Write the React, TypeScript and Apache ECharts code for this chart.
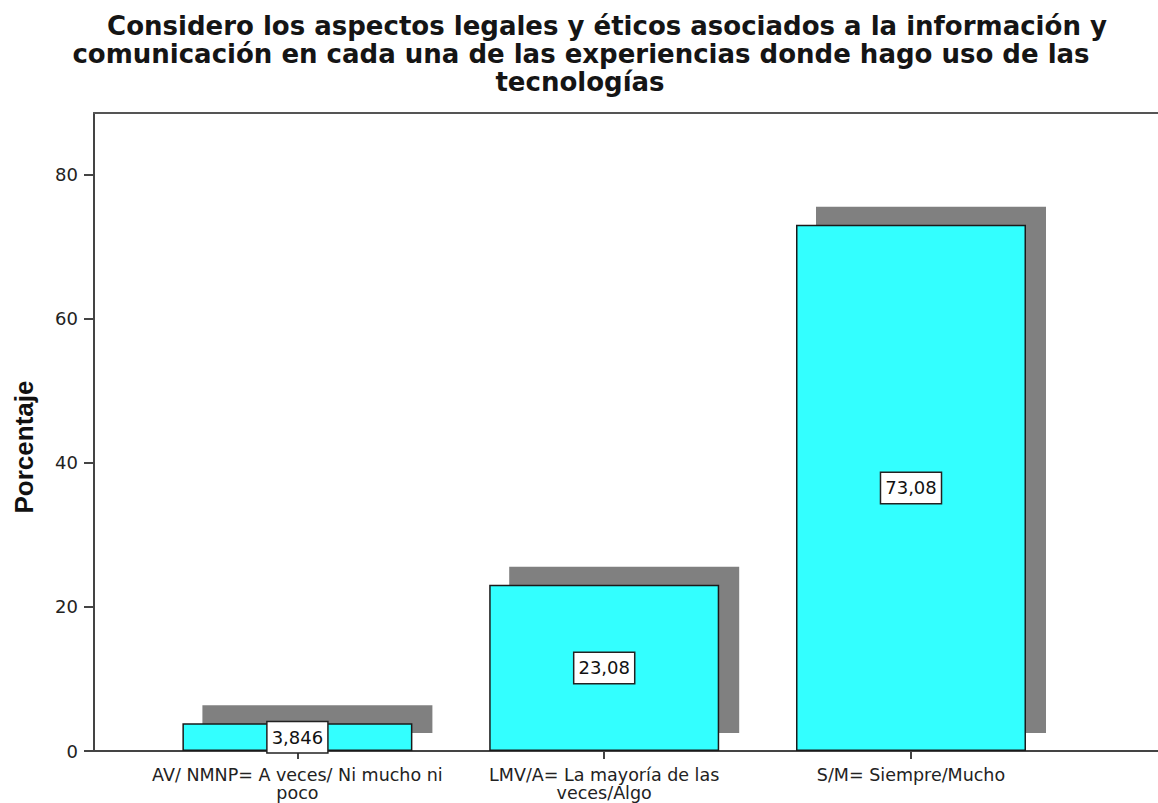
import React, { useEffect, useRef } from "react";
import * as echarts from "echarts";

const titleLines = [
  "Considero los aspectos legales y éticos asociados a la información y",
  "comunicación en cada una de las experiencias donde hago uso de las",
  "tecnologías",
];
const categories = [
  "AV/ NMNP= A veces/ Ni mucho ni poco",
  "LMV/A= La mayoría de las veces/Algo",
  "S/M= Siempre/Mucho",
];
const categoryTickLabels = [
  "AV/ NMNP= A veces/ Ni mucho ni\npoco",
  "LMV/A= La mayoría de las\nveces/Algo",
  "S/M= Siempre/Mucho",
];
const percentages = [3.846, 23.08, 73.08];
const yTickValues = [0, 20, 40, 60, 80];
const yAxisName = "Porcentaje";
const yMax = 88.6;

export default function App() {
  const ref = useRef<HTMLDivElement>(null);
  useEffect(() => {
    const chart = echarts.init(ref.current!, null, { renderer: "svg" });
    const titleCenters = [607, 581, 580];
    const titleTops = [12, 40, 68];
    const sans = "DejaVu Sans";
    const axisColor = "#444";
    chart.setOption({
      animation: false,
      backgroundColor: "#ffffff",
      title: titleLines.map((t, i) => ({
        text: t,
        left: titleCenters[i],
        top: titleTops[i],
        textAlign: "center",
        textVerticalAlign: "top",
        padding: 0,
        textStyle: {
          fontFamily: sans,
          fontWeight: "bold",
          fontSize: 26,
          lineHeight: 28,
          color: "#151515",
        },
      })),
      grid: [
        { left: 94, right: 0, top: 113, bottom: 52 },
        { left: 144, right: 93.6, top: 113, bottom: 52 },
        { left: 164, right: 73.6, top: 95, bottom: 70 },
      ],
      xAxis: [
        {
          gridIndex: 0,
          type: "value",
          min: 0,
          max: 1,
          axisLine: { show: true, onZero: false, lineStyle: { color: axisColor, width: 2 } },
          axisTick: { show: false },
          axisLabel: { show: false },
          splitLine: { show: false },
        },
        {
          gridIndex: 1,
          type: "category",
          data: categories,
          axisLine: { show: false },
          axisTick: { show: true, alignWithLabel: true, length: 8, lineStyle: { color: axisColor, width: 2 } },
          axisLabel: {
            interval: 0,
            formatter: (_v: string, i: number) => categoryTickLabels[i],
            fontFamily: sans,
            fontSize: 17.5,
            lineHeight: 18,
            color: "#222",
            margin: 15,
          },
          splitLine: { show: false },
        },
        { gridIndex: 2, type: "category", data: categories, show: false },
        {
          gridIndex: 0,
          type: "value",
          position: "top",
          min: 0,
          max: 1,
          axisLine: { show: true, onZero: false, lineStyle: { color: "#555", width: 2 } },
          axisTick: { show: false },
          axisLabel: { show: false },
          splitLine: { show: false },
        },
      ],
      yAxis: [
        {
          gridIndex: 0,
          type: "value",
          min: 0,
          max: yMax,
          interval: 20,
          axisLine: { show: true, onZero: false, lineStyle: { color: axisColor, width: 2 } },
          axisTick: { show: true, length: 10, customValues: yTickValues, lineStyle: { color: axisColor, width: 2 } },
          axisLabel: {
            customValues: yTickValues,
            fontFamily: sans,
            fontSize: 18,
            color: "#222",
            margin: 16,
          },
          splitLine: { show: false },
        },
        { gridIndex: 1, type: "value", min: 0, max: yMax, show: false, splitLine: { show: false } },
        { gridIndex: 2, type: "value", min: 0, max: yMax, show: false, splitLine: { show: false } },
      ],
      graphic: [
        {
          type: "text",
          x: 24,
          y: 447,
          rotation: Math.PI / 2,
          style: {
            text: yAxisName,
            fontFamily: "Liberation Sans",
            fontWeight: "bold",
            fontSize: 26,
            fill: "#111",
            align: "center",
            verticalAlign: "middle",
            textAlign: "center",
            textVerticalAlign: "middle",
          },
        },
      ],
      series: [
        {
          type: "bar",
          xAxisIndex: 2,
          yAxisIndex: 2,
          data: percentages,
          barWidth: 230,
          silent: true,
          z: 1,
          itemStyle: { color: "#808080" },
        },
        {
          type: "bar",
          xAxisIndex: 1,
          yAxisIndex: 1,
          data: percentages,
          barWidth: 230,
          z: 3,
          itemStyle: { color: "#33FFFF", borderColor: "#1a1a1a", borderWidth: 1.5 },
          label: {
            show: true,
            position: "inside",
            formatter: (p: any) => String(p.value).replace(".", ","),
            fontFamily: sans,
            fontSize: 18,
            lineHeight: 20,
            color: "#111",
            backgroundColor: "#ffffff",
            borderColor: "#222",
            borderWidth: 1.5,
            padding: [5, 4],
          },
        },
      ],
    });
    return () => chart.dispose();
  }, []);
  return (
    <div
      ref={ref}
      style={{ position: "absolute", left: 0, top: 0, width: 1158, height: 803, background: "#fff" }}
    />
  );
}
